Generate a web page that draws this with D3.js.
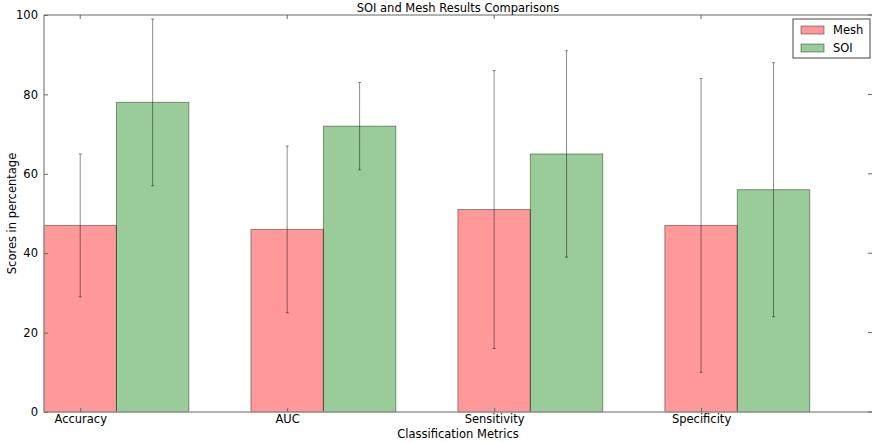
<!DOCTYPE html>
<html>
<head>
<meta charset="utf-8">
<script src="https://cdn.jsdelivr.net/npm/d3@7"></script>
<style>
body { margin: 0; background: white; }
text { font-family: "DejaVu Sans", sans-serif; }
</style>
</head>
<body>
<svg width="872" height="443"></svg>
<script>
const svg = d3.select('svg');
const width = +svg.attr('width');
const height = +svg.attr('height');

const categories = ['Accuracy', 'AUC', 'Sensitivity', 'Specificity'];
const meshValues = [47, 46, 51, 47];
const meshErr = [18, 21, 35, 37];
const soiValues = [78, 72, 65, 56];
const soiErr = [21, 11, 26, 32];
const yTicks = [0, 20, 40, 60, 80, 100];
const series = [
	{name: 'Mesh', values: meshValues, err: meshErr, color: '#ff0000', offset: 0},
	{name: 'SOI', values: soiValues, err: soiErr, color: '#008000', offset: 1}
];

const fs = 11.5;
const barWidth = 0.35;
const margin = {top: 15, right: 0, bottom: 31, left: 44};

const xScale = d3.scaleLinear()
	.domain([-barWidth / 2, 3.826])
	.range([margin.left, width]);
const yScale = d3.scaleLinear()
	.domain([0, 100])
	.range([height - margin.bottom, margin.top]);

const g = svg.append('g');

// bars
series.forEach(s => {
	g.selectAll('rect.' + s.name).data(s.values)
		.enter().append('rect')
			.attr('x', (d, i) => xScale(i - barWidth / 2 + s.offset * barWidth))
			.attr('y', d => yScale(d))
			.attr('width', xScale(barWidth) - xScale(0))
			.attr('height', d => yScale(0) - yScale(d))
			.attr('fill', s.color)
			.attr('fill-opacity', 0.4)
			.attr('stroke', 'black')
			.attr('stroke-opacity', 0.4)
			.attr('stroke-width', 1);
});

// error bars
series.forEach(s => {
	s.values.forEach((v, i) => {
		const cx = xScale(i + s.offset * barWidth);
		const top = yScale(v + s.err[i]);
		const bot = yScale(v - s.err[i]);
		const eg = g.append('g').attr('stroke', 'black').attr('stroke-opacity', 0.45);
		eg.append('line').attr('x1', cx).attr('x2', cx).attr('y1', top).attr('y2', bot);
		eg.append('line').attr('x1', cx - 1.5).attr('x2', cx + 1.5).attr('y1', top).attr('y2', top);
		eg.append('line').attr('x1', cx - 1.5).attr('x2', cx + 1.5).attr('y1', bot).attr('y2', bot);
	});
});

// spines
const x0 = margin.left, x1 = width + 1, y0 = yScale(0), y1 = yScale(100);
svg.append('line').attr('x1', x0).attr('x2', x1).attr('y1', y1).attr('y2', y1).attr('stroke', '#666');
svg.append('line').attr('x1', x0).attr('x2', x1).attr('y1', y0).attr('y2', y0).attr('stroke', '#999').attr('stroke-width', 1.5);
svg.append('line').attr('x1', x0).attr('x2', x0).attr('y1', y1).attr('y2', y0).attr('stroke', '#999').attr('stroke-width', 1.5);

// y axis
const yAxis = d3.axisLeft(yScale).tickValues(yTicks).tickSizeInner(-4).tickSizeOuter(0).tickPadding(6);
const ya = svg.append('g').attr('transform', `translate(${x0},0)`).call(yAxis);
ya.select('.domain').remove();
ya.selectAll('line').attr('stroke', '#666');
ya.selectAll('text').attr('font-size', fs).attr('fill', 'black').attr('font-family', '"DejaVu Sans", sans-serif');

// right ticks
svg.selectAll('line.rtick').data(yTicks).enter().append('line')
	.attr('x1', width - 4).attr('x2', width).attr('y1', d => yScale(d)).attr('y2', d => yScale(d))
	.attr('stroke', '#666');

// x axis
const xAxis = d3.axisBottom(xScale).tickValues(d3.range(categories.length))
	.tickFormat(i => categories[i]).tickSizeInner(-4).tickSizeOuter(0).tickPadding(3);
const xa = svg.append('g').attr('transform', `translate(0,${y0})`).call(xAxis);
xa.select('.domain').remove();
xa.selectAll('line').attr('stroke', '#666');
xa.selectAll('text').attr('font-size', fs).attr('fill', 'black').attr('font-family', '"DejaVu Sans", sans-serif');

// top ticks
svg.selectAll('line.ttick').data(d3.range(categories.length)).enter().append('line')
	.attr('x1', d => xScale(d)).attr('x2', d => xScale(d)).attr('y1', y1).attr('y2', y1 + 4)
	.attr('stroke', '#666');

// titles
svg.append('text').attr('x', (x0 + width) / 2).attr('y', 12).attr('text-anchor', 'middle')
	.attr('font-size', fs).text('SOI and Mesh Results Comparisons');
svg.append('text').attr('x', (x0 + width) / 2).attr('y', 438).attr('text-anchor', 'middle')
	.attr('font-size', fs).text('Classification Metrics');
svg.append('text').attr('transform', `translate(16,${(y0 + y1) / 2}) rotate(-90)`).attr('text-anchor', 'middle')
	.attr('font-size', fs).text('Scores in percentage');

// legend
const lg = svg.append('g').attr('transform', 'translate(793,19)');
lg.append('rect').attr('width', 77).attr('height', 39).attr('fill', 'white').attr('stroke', '#444');
series.forEach((s, i) => {
	lg.append('rect').attr('x', 8).attr('y', 7 + i * 18).attr('width', 23).attr('height', 8)
		.attr('fill', s.color).attr('fill-opacity', 0.4).attr('stroke', 'black').attr('stroke-opacity', 0.4);
	lg.append('text').attr('x', 40).attr('y', 15 + i * 18).attr('font-size', fs).text(s.name);
});
</script>
</body>
</html>
